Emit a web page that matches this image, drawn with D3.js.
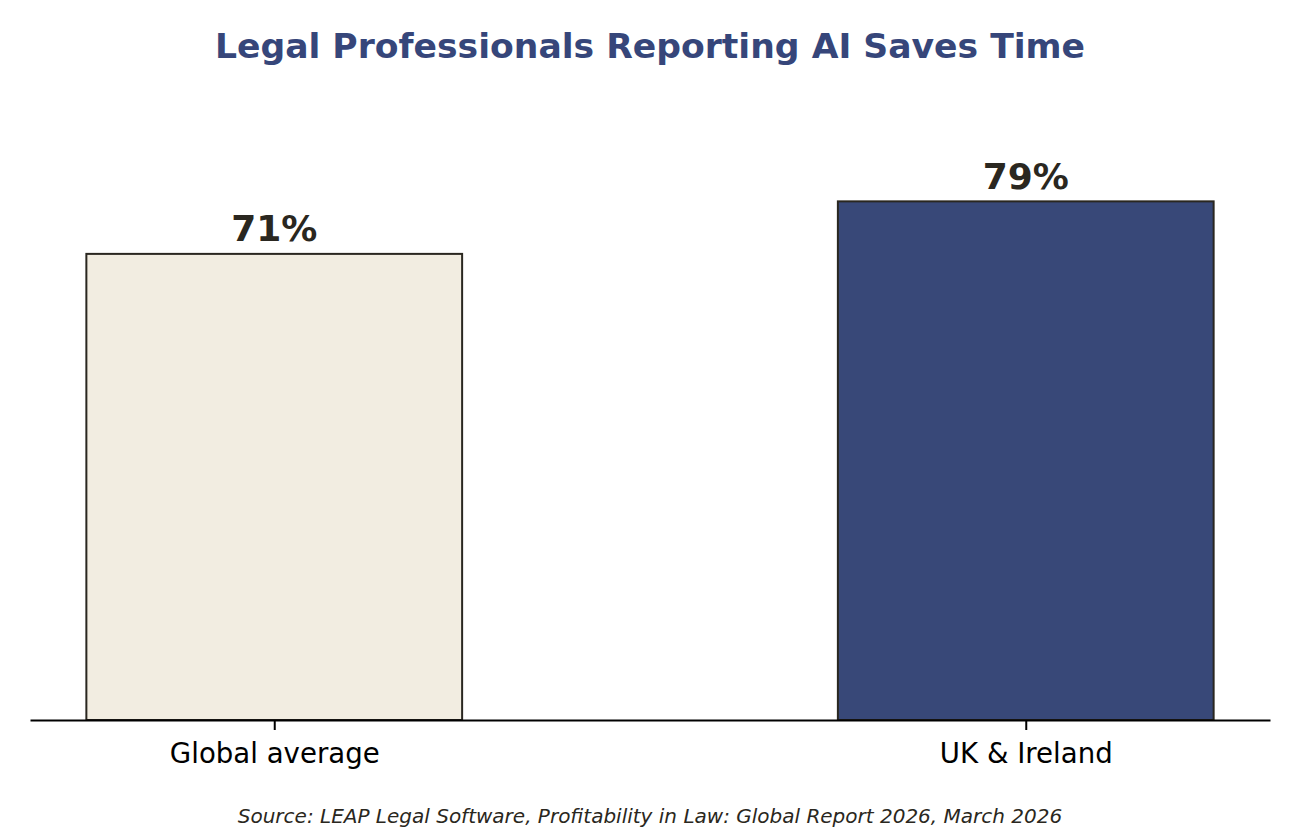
<!DOCTYPE html>
<html>
<head>
<meta charset="utf-8">
<script src="https://cdn.jsdelivr.net/npm/d3@7"></script>
<style>
  body { margin: 0; background: #fff; }
  text { font-family: "DejaVu Sans", sans-serif; }
</style>
</head>
<body>
<div id="chart"></div>
<script>
// Data
const categories = ["Global average", "UK & Ireland"];
const values = [71, 79];
const barColors = ["#f2ede1", "#384878"];

const width = 1300;
const height = 840;

const svg = d3.select("#chart")
  .append("svg")
  .attr("width", width)
  .attr("height", height);

// x positions like matplotlib: bars at 0 and 1, width 0.5
const x = d3.scaleLinear().domain([-0.325, 1.325]).range([30, 1270]);
const y = d3.scaleLinear().domain([0, 100]).range([720, 63.5]);
const barW = x(0.5) - x(0);

// Title
svg.append("text")
  .attr("x", width / 2)
  .attr("y", 58)
  .attr("text-anchor", "middle")
  .attr("font-size", 34.6)
  .attr("font-weight", "bold")
  .attr("fill", "#36467a")
  .text("Legal Professionals Reporting AI Saves Time");

// Bars
svg.selectAll(".bar")
  .data(values)
  .enter()
  .append("rect")
  .attr("class", "bar")
  .attr("x", (d, i) => x(i) - barW / 2)
  .attr("y", d => y(d))
  .attr("width", barW)
  .attr("height", d => y(0) - y(d))
  .attr("fill", (d, i) => barColors[i])
  .attr("stroke", "#2a2720")
  .attr("stroke-width", 2);

// Value labels
svg.selectAll(".label")
  .data(values)
  .enter()
  .append("text")
  .attr("class", "label")
  .attr("x", (d, i) => x(i))
  .attr("y", d => y(d) - 12.5)
  .attr("text-anchor", "middle")
  .attr("font-size", 36)
  .attr("font-weight", "bold")
  .attr("fill", "#2a2720")
  .text(d => d + "%");

// x axis
const xAxis = d3.axisBottom(x)
  .tickValues(categories.map((d, i) => i))
  .tickFormat(i => categories[i])
  .tickSize(10)
  .tickSizeOuter(0);

const axisG = svg.append("g")
  .attr("transform", `translate(0,${y(0)})`)
  .call(xAxis);

axisG.select(".domain")
  .attr("stroke", "#000")
  .attr("stroke-width", 2);
axisG.selectAll(".tick line")
  .attr("stroke", "#000")
  .attr("stroke-width", 2);
axisG.selectAll(".tick text")
  .attr("font-size", 27.6)
  .attr("fill", "#000")
  .attr("y", 23)
  .attr("dy", "0.71em")
  .style("font-family", "DejaVu Sans, sans-serif");

// Source
svg.append("text")
  .attr("x", width / 2)
  .attr("y", 823)
  .attr("text-anchor", "middle")
  .attr("font-size", 20)
  .attr("font-style", "italic")
  .attr("fill", "#2a2720")
  .text("Source: LEAP Legal Software, Profitability in Law: Global Report 2026, March 2026");
</script>
</body>
</html>
